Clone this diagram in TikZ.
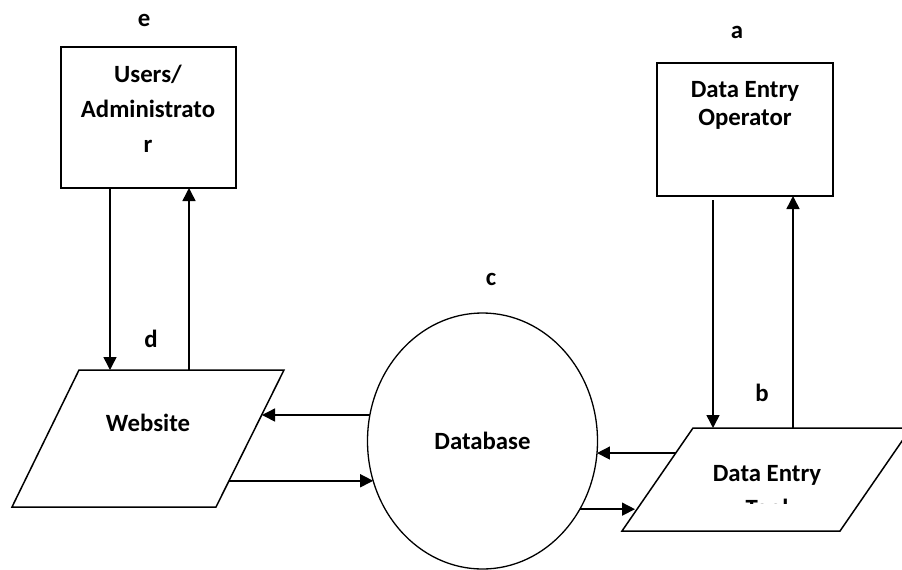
\documentclass[tikz,border=0pt]{standalone}
\usepackage{fontspec}
\setmainfont{Carlito}
\usetikzlibrary{arrows.meta,shapes.geometric,positioning}

\begin{document}
\begin{tikzpicture}[x=1pt,y=-1pt, >={Triangle[length=13pt,width=13pt]}]
	\tikzstyle{every node}=[font=\bfseries\fontsize{24.8}{29}\selectfont, inner sep=0pt, outer sep=0pt]
	\tikzstyle{box}=[draw, line width=1.5pt]
	\tikzstyle{io}=[draw, line width=1.5pt]
	\tikzstyle{store}=[draw, line width=1.3pt, ellipse, minimum width=230pt, minimum height=256pt]
	\tikzstyle{flow}=[->, line width=1.5pt]
	\tikzstyle{tag}=[anchor=base]

	\clip (0,0) rectangle (902,570);

	% external entities
	\node[box, minimum width=175pt, minimum height=141pt] (usr) at (148.5,117.5) {};
	\node[box, minimum width=176pt, minimum height=133pt] (opr) at (745,129.5) {};
	\node[tag, align=center, font=\bfseries\fontsize{24.8}{35}\selectfont] (usrtxt) at (148,152) {Users/\\Administrato\\r};
	\node[tag, align=center, font=\bfseries\fontsize{24.8}{28}\selectfont] (oprtxt) at (745,125) {Data Entry\\Operator};

	% interfaces (parallelograms)
	\draw[io] (12,507) coordinate (webbl) -- (216,507) coordinate (webbr)
		-- (284,370) coordinate (webtr) -- (79,370) coordinate (webtl) -- cycle;
	\draw[io] (622,531) coordinate (detbl) -- (840,531) coordinate (detbr)
		-- (911,428) coordinate (dettr) -- (693,428) coordinate (dettl) -- cycle;
	\node[tag] (web) at (148,431) {Website};
	\node[tag] (det) at (767,481) {Data Entry};
	\begin{scope}
		\clip (700,490) rectangle (840,503);
		\node[tag] (tool) at (767,516) {Tool};
	\end{scope}

	% data store
	\node[store] (db) at (482.5,441) {Database};

	% letters
	\node[tag] (le) at (144,27) {e};
	\node[tag] (la) at (737,38) {a};
	\node[tag] (lc) at (491,285) {c};
	\node[tag] (ld) at (151,347) {d};
	\node[tag] (lb) at (762,401) {b};

	% free ends on the slanted sides
	\coordinate (webin) at (262,415);
	\coordinate (webout) at (229,482);
	\coordinate (detout) at (676,452);
	\coordinate (detin) at (635,507);

	% users <-> website
	\draw[flow] ([xshift=-38.5pt]usr.south) -- ([xshift=-38.5pt]usr.south |- webtl);
	\draw[flow] ([xshift=40.5pt]usr.south |- webtl) -- ([xshift=40.5pt]usr.south);
	% operator <-> tool
	\draw[flow] ([xshift=-32pt,yshift=-4pt]opr.south) -- ([xshift=-32pt]opr.south |- dettl);
	\draw[flow] ([xshift=48pt]opr.south |- dettl) -- ([xshift=48pt]opr.south);
	% database
	\draw[flow] (db.167.5) -- (db.167.5 -| webin);
	\draw[flow] (db.200.6 -| webout) -- (db.200.6);
	\draw[flow] (db.354 -| detout) -- (db.354);
	\draw[flow] (db.325.6) -- (db.325.6 -| detin);
\end{tikzpicture}
\end{document}
